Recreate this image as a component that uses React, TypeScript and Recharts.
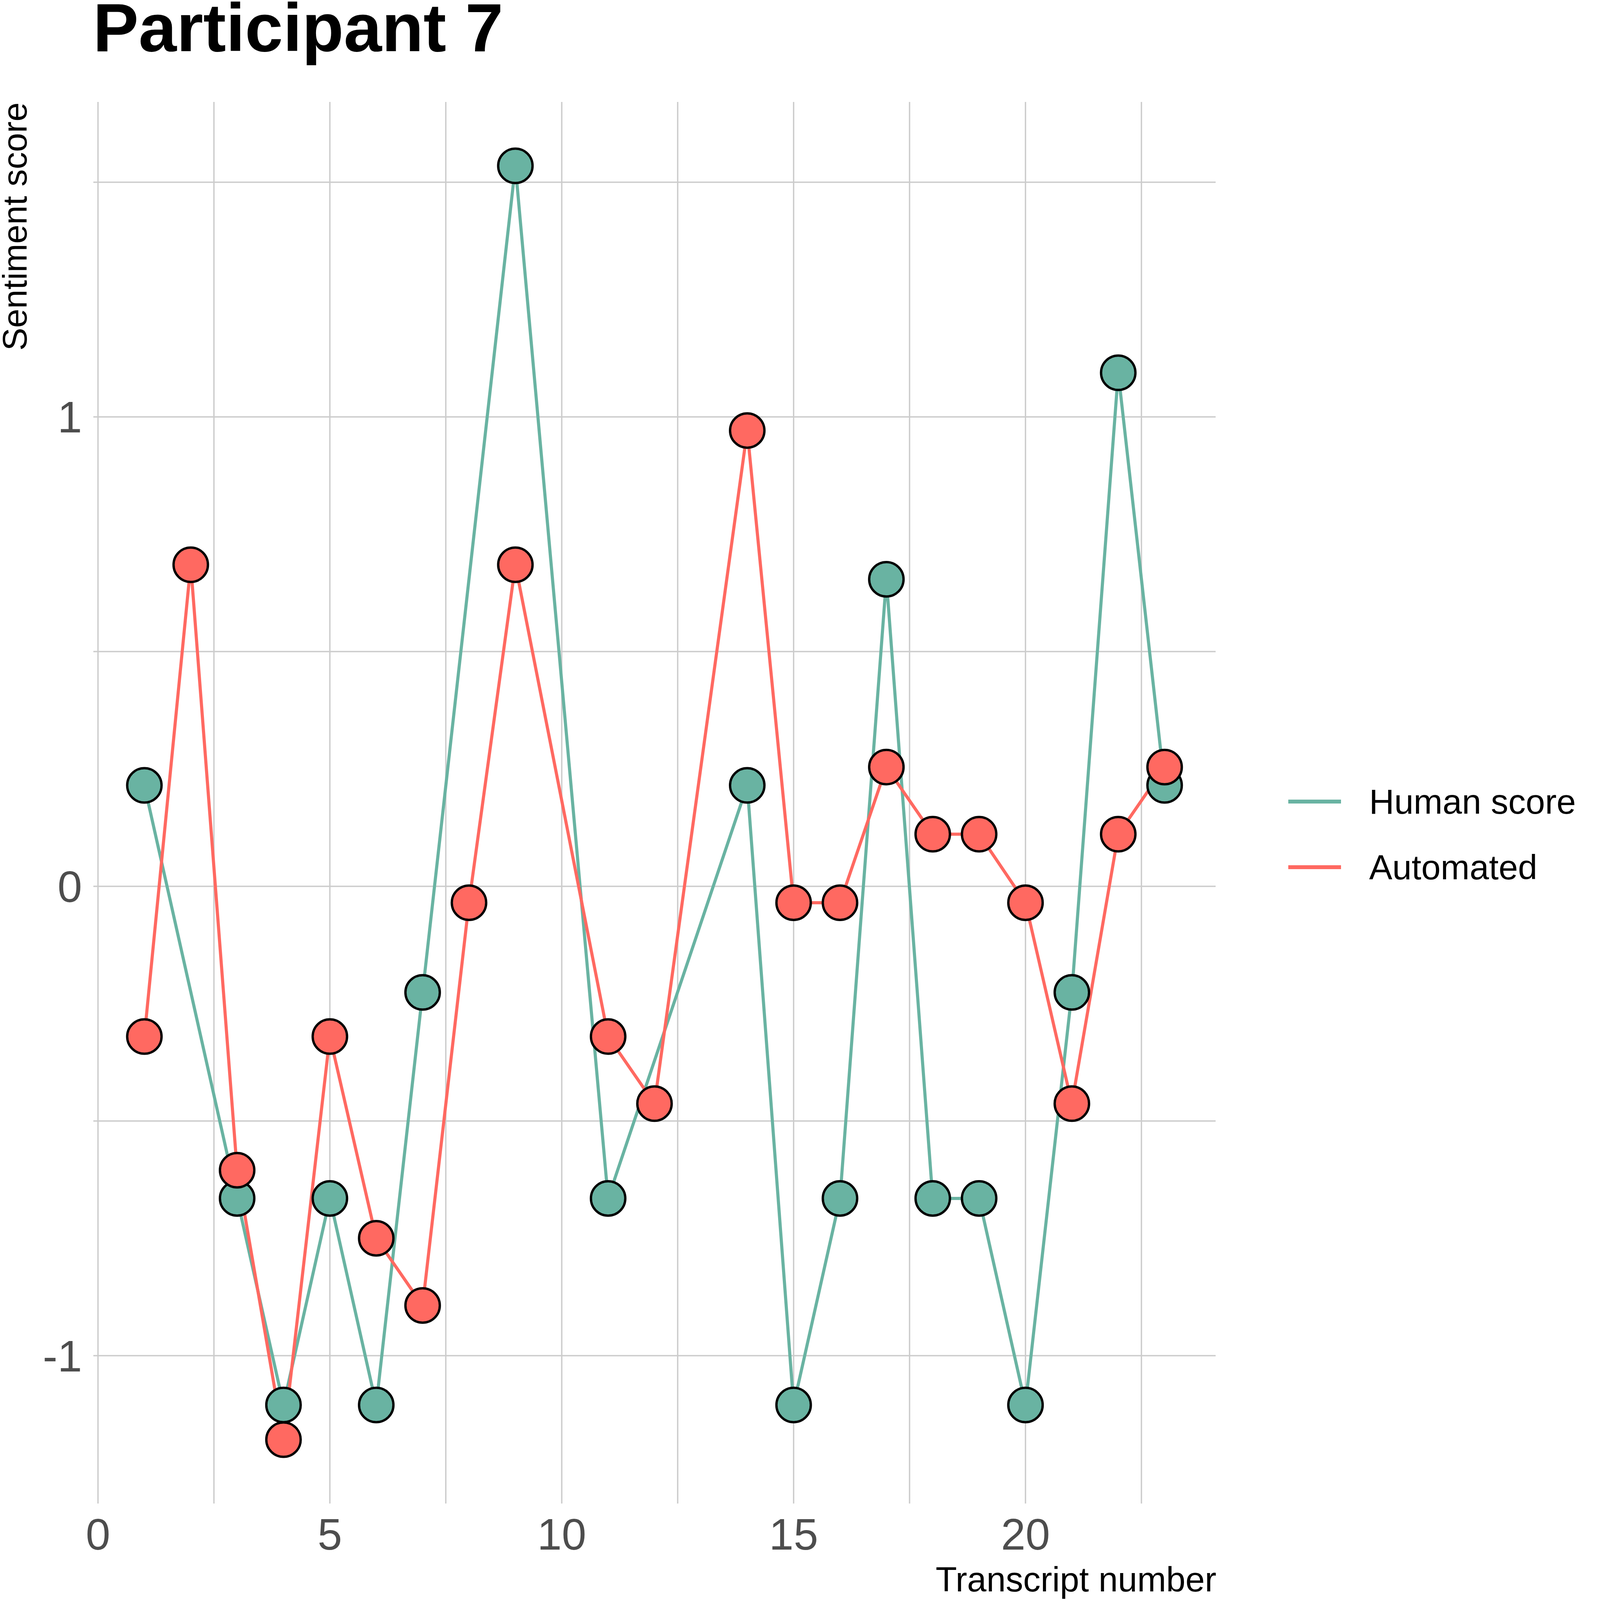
import { CartesianGrid, Legend, Line, LineChart, XAxis, YAxis } from "recharts";

// transcript numbers and the two score series (null = no score for that transcript)
const transcripts = [1, 2, 3, 4, 5, 6, 7, 8, 9, 10, 11, 12, 13, 14, 15, 16, 17, 18, 19, 20, 21, 22, 23];
const humanScores = [
  0.215, null, -0.665, -1.105, -0.665, -1.105, -0.226, null, 1.535, null, -0.665, null,
  null, 0.215, -1.105, -0.665, 0.654, -0.665, -0.665, -1.105, -0.226, 1.094, 0.215,
];
const automatedScores = [
  -0.32, 0.685, -0.605, -1.179, -0.32, -0.75, -0.893, -0.035, 0.685, null, -0.32, -0.463,
  null, 0.971, -0.035, -0.035, 0.254, 0.111, 0.111, -0.035, -0.463, 0.111, 0.254,
];

const xTicks = [0, 5, 10, 15, 20];
const yTicks = [-1, 0, 1];
const xGrid = [0, 2.5, 5, 7.5, 10, 12.5, 15, 17.5, 20, 22.5];
const yGrid = [-1, -0.5, 0, 0.5, 1, 1.5];
const legendOrder = ["Human score", "Automated"];

const data = transcripts.map((t, i) => ({
  transcript: t,
  human: humanScores[i],
  automated: automatedScores[i],
}));

const FONT = "'Liberation Sans', Arial, Helvetica, sans-serif";
const GREEN = "#69B3A2";
const RED = "#FF6961";

const renderLegend = (props: any) => {
  const items = [...(props.payload || [])].sort(
    (a: any, b: any) => legendOrder.indexOf(a.value) - legendOrder.indexOf(b.value)
  );
  return (
    <div style={{ fontFamily: FONT, fontSize: 89, color: "#000" }}>
      {items.map((entry: any) => (
        <div
          key={entry.value}
          style={{ display: "flex", alignItems: "center", height: 168 }}
        >
          <svg width={135} height={10} style={{ display: "block" }}>
            <line x1={0} y1={5} x2={135} y2={5} stroke={entry.color} strokeWidth={10} />
          </svg>
          <span style={{ marginLeft: 72, whiteSpace: "nowrap" }}>{entry.value}</span>
        </div>
      ))}
    </div>
  );
};

const YTitle = (props: any) => {
  const { viewBox } = props;
  const x = 68;
  const y = viewBox.y + 1;
  return (
    <text
      x={x}
      y={y}
      transform={`rotate(-90, ${x}, ${y})`}
      textAnchor="end"
      fontFamily={FONT}
      fontSize={88}
      fill="#000"
    >
      Sentiment score
    </text>
  );
};

const XTitle = (props: any) => {
  const { viewBox } = props;
  return (
    <text
      x={viewBox.x + viewBox.width + 2}
      y={4074}
      textAnchor="end"
      fontFamily={FONT}
      fontSize={89}
      fill="#000"
    >
      Transcript number
    </text>
  );
};

export default function App() {
  return (
    <div style={{ position: "absolute", left: 0, top: 0, width: 4134, height: 4191, background: "#fff" }}>
      <div
        style={{
          position: "absolute",
          left: 238,
          top: 5,
          fontFamily: FONT,
          fontWeight: "bold",
          fontSize: 175,
          lineHeight: 0.75,
          whiteSpace: "nowrap",
          color: "#000",
        }}
      >
        Participant 7
      </div>
      <LineChart
        width={4134}
        height={4191}
        data={data}
        margin={{ top: 261, right: 1022, bottom: 0, left: 0 }}
      >
        <CartesianGrid
          stroke="#CCCCCC"
          strokeWidth={3.5}
          verticalValues={xGrid}
          horizontalValues={yGrid}
        />
        <XAxis
          dataKey="transcript"
          type="number"
          domain={[-0.1, 24.1]}
          ticks={xTicks}
          axisLine={false}
          tickLine={false}
          tickSize={0}
          tickMargin={38}
          height={342}
          tick={{ fill: "#4D4D4D", fontSize: 113, fontFamily: FONT }}
          label={{ content: <XTitle /> }}
        />
        <YAxis
          type="number"
          domain={[-1.315, 1.671]}
          ticks={yTicks}
          axisLine={false}
          tickLine={false}
          tickSize={0}
          tickMargin={29}
          width={239}
          tick={{ fill: "#4D4D4D", fontSize: 113, fontFamily: FONT }}
          label={{ content: <YTitle /> }}
        />
        <Legend
          layout="vertical"
          align="center"
          verticalAlign="middle"
          content={renderLegend}
          wrapperStyle={{ left: 3298, top: 1968, width: 836 }}
        />
        <Line
          name="Human score"
          dataKey="human"
          type="linear"
          stroke={GREEN}
          strokeWidth={8}
          connectNulls
          dot={{ r: 44, fill: GREEN, stroke: "#000", strokeWidth: 6 }}
          activeDot={false}
          isAnimationActive={false}
        />
        <Line
          name="Automated"
          dataKey="automated"
          type="linear"
          stroke={RED}
          strokeWidth={8}
          connectNulls
          dot={{ r: 44, fill: RED, stroke: "#000", strokeWidth: 6 }}
          activeDot={false}
          isAnimationActive={false}
        />
      </LineChart>
    </div>
  );
}
